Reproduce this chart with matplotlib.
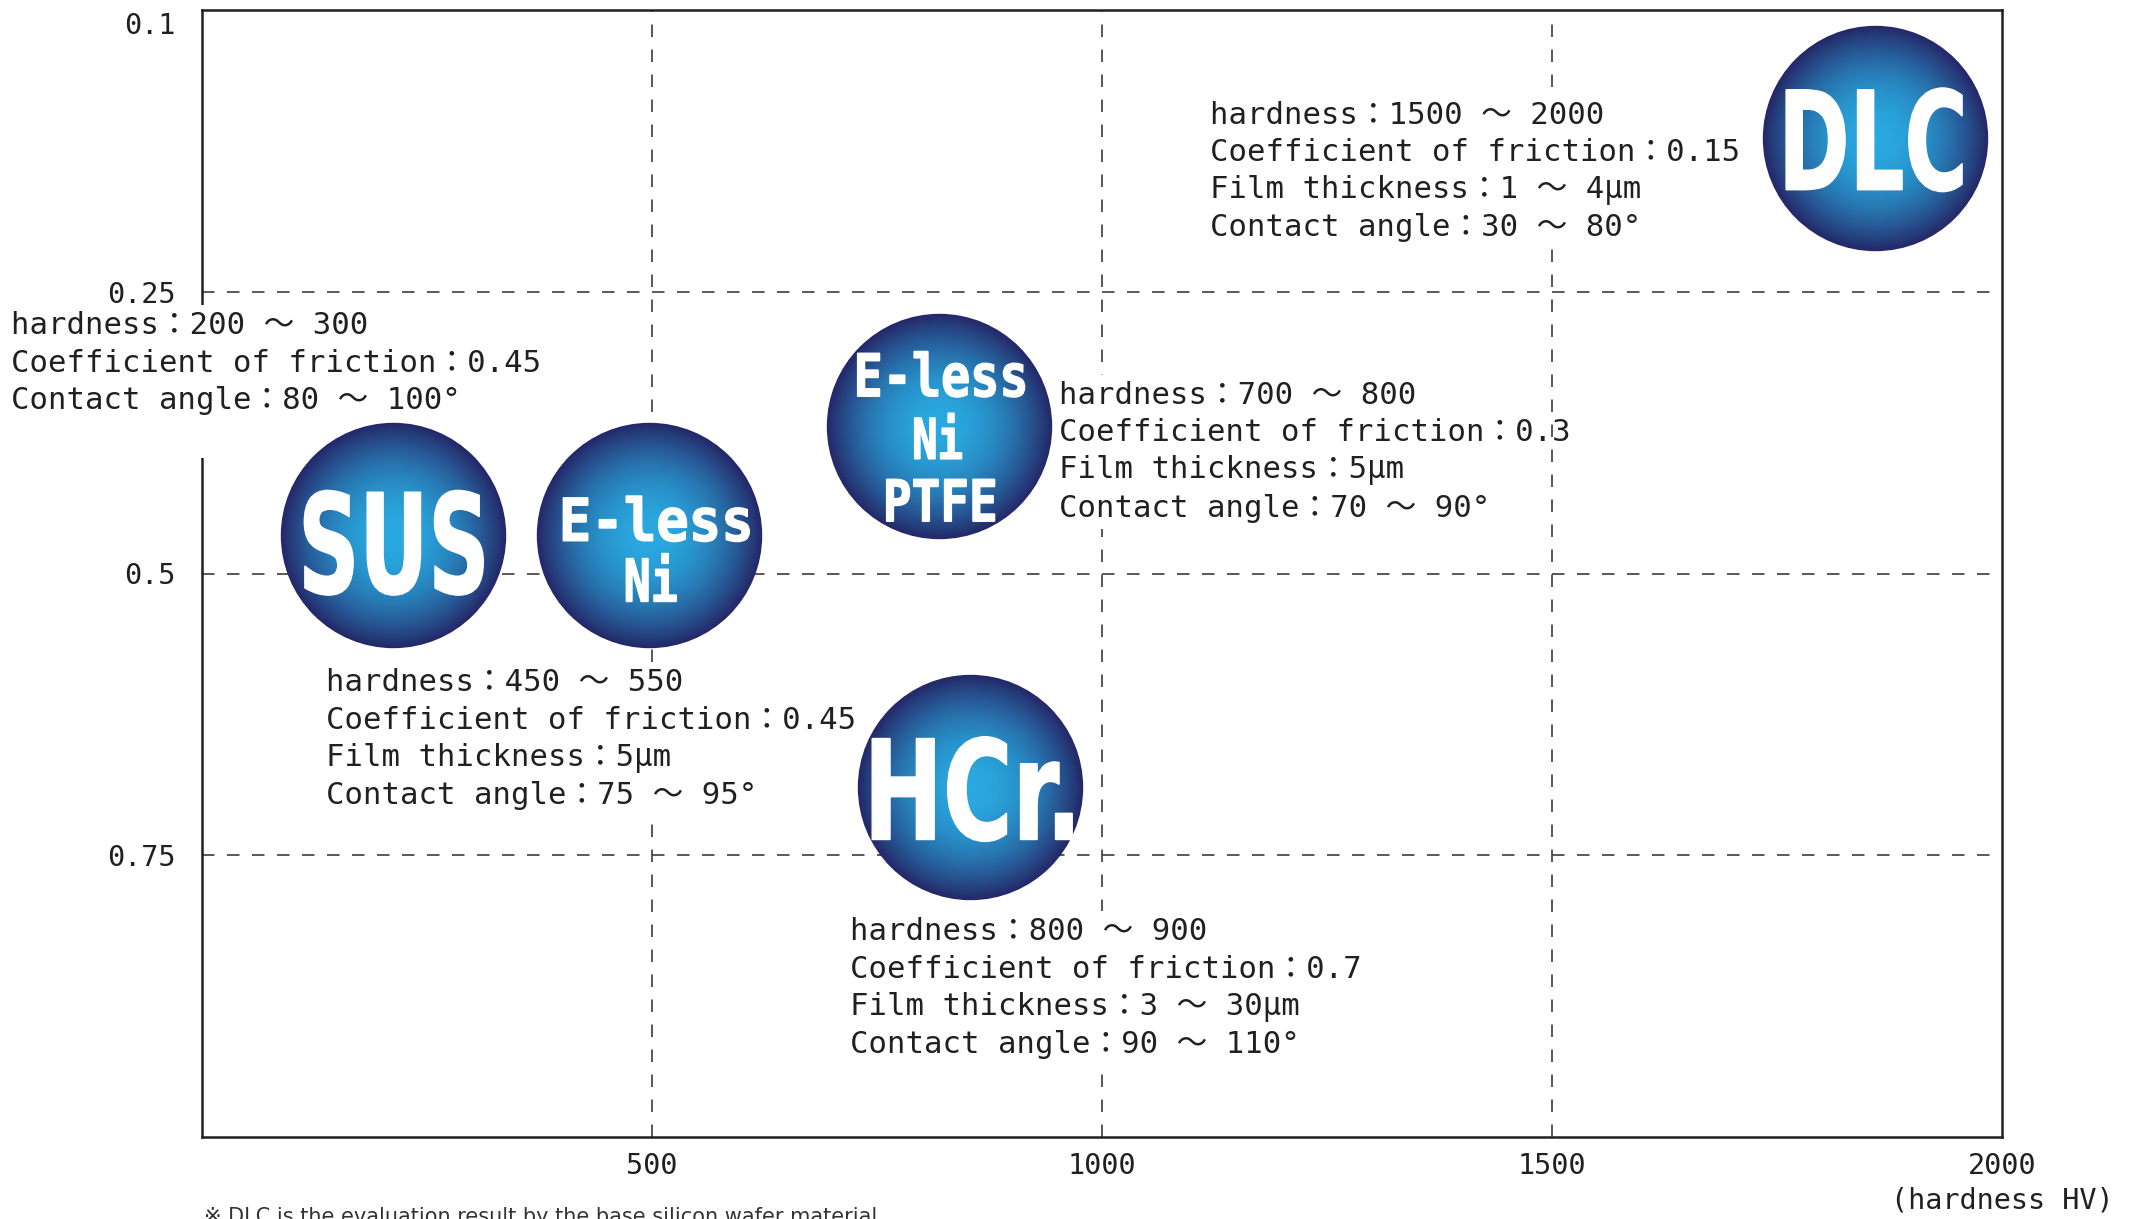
import numpy as np
import matplotlib
matplotlib.use("Agg")
import matplotlib.pyplot as plt
from matplotlib import font_manager
from matplotlib.font_manager import FontProperties
from matplotlib.textpath import TextPath
from matplotlib.patches import PathPatch
from matplotlib.transforms import Affine2D, IdentityTransform, ScaledTranslation, blended_transform_factory

# ---- data ----
materials = ["SUS", "E-less Ni", "E-less Ni PTFE", "HCr.", "DLC"]
ball_text = [["SUS"], ["E-less", "Ni"], ["E-less", "Ni", "PTFE"], ["HCr."], ["DLC"]]
hardness_pos = [212, 497, 819, 853, 1859]            # HV, centre of each ball
friction_pos = [0.466, 0.466, 0.369, 0.689, 0.168]   # centre of each ball
hardness_txt = ["200 ～ 300", "450 ～ 550", "700 ～ 800", "800 ～ 900", "1500 ～ 2000"]
friction_txt = ["0.45", "0.45", "0.3", "0.7", "0.15"]
film_txt = [None, "5μm", "5μm", "3 ～ 30μm", "1 ～ 4μm"]
angle_txt = ["80 ～ 100°", "75 ～ 95°", "70 ～ 90°", "90 ～ 110°", "30 ～ 80°"]

x_ticks = [500, 1000, 1500, 2000]
y_ticks = [0.1, 0.25, 0.5, 0.75]
y_steps = [0.1, 0.25, 0.5, 0.75, 1.0]   # drawn equally spaced

# ---- layout ----
# where each info block sits (data coords, block centre) and its stacking order
info_pos = [(-212, 0.330), (138, 0.647), (952, 0.392), (720, 0.868), (1120, 0.186)]
info_z = [2.6, 2.6, 2.6, 2.6, 2.7]
# per line of ball text: dx, baseline below centre, width, cap height (pixels)
label_layout = [
    [(1, 58, 179, 101)],
    [(7, 5.6, 186, 43), (2, 66.3, 50, 43)],
    [(2, -29.6, 167, 43), (-1, 33, 47, 41), (1.5, 95.4, 108, 42)],
    [(2.5, 53, 200, 101)],
    [(-1, 52, 176, 100)],
]
ball_r = 112.7            # px
c_in = np.array([0x29, 0xa9, 0xe0]) / 255
c_out = np.array([0x24, 0x28, 0x68]) / 255
ink = "#231f20"
mono = ["DejaVu Sans Mono", "Noto Sans CJK JP"]
grid_kw = dict(ls=(0, (7.5, 7.5)), lw=1.2, color="#3c3c3c")

W, H, DPI = 2129, 1219, 100
fig = plt.figure(figsize=(W / DPI, H / DPI), dpi=DPI)
ax = fig.add_axes([202 / W, 1 - 1137 / H, 1800 / W, 1127 / H])

idx = np.arange(len(y_steps))
ax.set_yscale("function", functions=(lambda v: np.interp(v, y_steps, idx),
                                     lambda i: np.interp(i, idx, y_steps)))
ax.set_xlim(0, 2000)
ax.set_ylim(1.0, 0.1)

ax.set_xticks(x_ticks, labels=[str(t) for t in x_ticks])
ax.set_yticks(y_ticks, labels=[str(t) for t in y_ticks])
ax.minorticks_off()
ax.tick_params(axis="both", which="both", length=0, colors=ink)
ax.tick_params(axis="x", pad=11)
ax.tick_params(axis="y", pad=19)
for lab in ax.get_xticklabels() + ax.get_yticklabels():
    lab.set_family(mono)
    lab.set_fontsize(20.5)
# the top label sits a little under the frame
t0 = ax.yaxis.get_major_ticks()[0].label1
t0.set_transform(t0.get_transform() + ScaledTranslation(0, -9 / 72, fig.dpi_scale_trans))
ax.xaxis.set_zorder(2.8)
ax.yaxis.set_zorder(2.8)

# dashed grid; the 1500 line runs over the PTFE block but under the DLC block
for t in x_ticks[:-1]:
    ax.axvline(t, zorder=2.65 if t == 1500 else 0.5, **grid_kw)
for t in y_ticks[1:]:
    ax.axhline(t, zorder=0.5, **grid_kw)

for sp in ax.spines.values():
    sp.set_linewidth(1.8)
    sp.set_color(ink)
    sp.set_zorder(2.5)

# info blocks
for i in range(len(materials)):
    lines = [f"hardness：{hardness_txt[i]}",
             f"Coefficient of friction：{friction_txt[i]}"]
    if film_txt[i]:
        lines.append(f"Film thickness：{film_txt[i]}")
    lines.append(f"Contact angle：{angle_txt[i]}")
    if len(lines) < 4:
        lines.append(" ")
    x, y = info_pos[i]
    ax.text(x, y, "\n".join(lines), family=mono, fontsize=22.1, color=ink,
            ha="left", va="center", linespacing=1.36, zorder=info_z[i],
            bbox=dict(boxstyle="square,pad=0.2", fc="white", ec="none"))

# gradient balls: stacked discs from the rim inwards
n = 80
d_pt = 2 * ball_r * 72 / DPI
for k in range(n):
    f = 1 - k / n
    t = f ** 2
    col = c_in * (1 - t) + c_out * t
    ax.scatter(hardness_pos, friction_pos, s=(d_pt * f) ** 2, color=col,
               linewidths=0, zorder=3)

# white condensed labels on the balls
names = {f.name for f in font_manager.fontManager.ttflist}
cond = "Liberation Sans Narrow" if "Liberation Sans Narrow" in names else "DejaVu Sans"
prop_big = FontProperties(family=cond, weight="bold")
prop_mono = FontProperties(family="DejaVu Sans Mono", weight="bold")

for i in range(len(materials)):
    cx, cy = ax.transData.transform((hardness_pos[i], friction_pos[i]))
    for s, (dx, base, wpx, cap) in zip(ball_text[i], label_layout[i]):
        prop = prop_mono if i in (1, 2) else prop_big
        tp = TextPath((0, 0), s, size=100, prop=prop)
        ext = tp.get_extents()
        hcap = TextPath((0, 0), "H", size=100, prop=prop).get_extents().height
        tr = (Affine2D().translate(-(ext.x0 + ext.x1) / 2, 0)
              .scale(wpx / ext.width, cap / hcap)
              .translate(cx + dx, cy - base))
        ax.add_patch(PathPatch(tr.transform_path(tp), fc="white", ec="white", lw=1.0,
                               transform=IdentityTransform(), zorder=4, clip_on=False))

# axis caption and footnote
ax.text(2000, -0.056, "(hardness HV)", transform=blended_transform_factory(ax.transData, ax.transAxes),
        family=mono, fontsize=20.5, color=ink, ha="center", va="center")
fig.text(204 / W, -4 / H, "※ DLC is the evaluation result by the base silicon wafer material.",
         family=["DejaVu Sans", "Noto Sans CJK JP"], fontsize=15, color="#333333",
         ha="left", va="baseline")

fig.savefig("out.png", dpi=DPI)
